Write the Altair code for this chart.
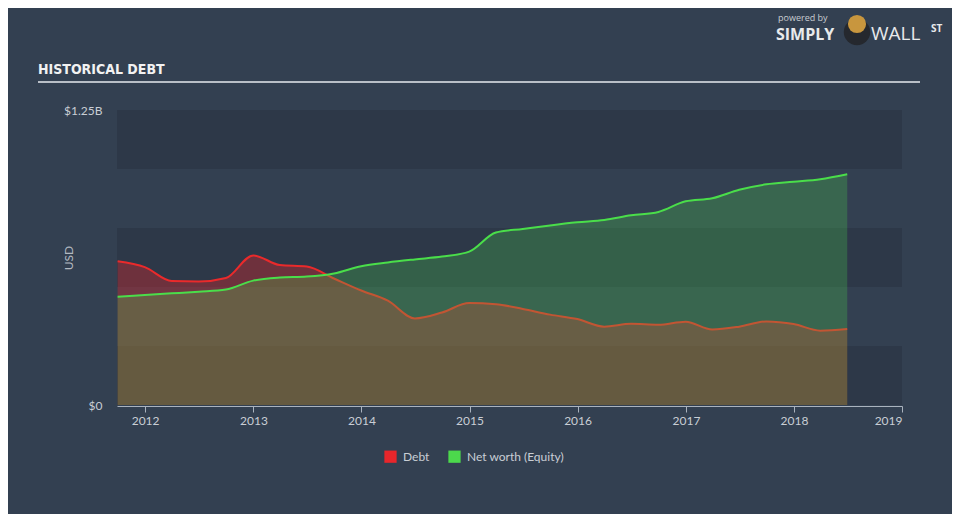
import altair as alt
import pandas as pd

# ---------------- data ----------------
dates = ["2011-09-30", "2011-12-31", "2012-03-31", "2012-06-30", "2012-09-30", "2012-12-31",
         "2013-03-31", "2013-06-30", "2013-09-30", "2013-12-31", "2014-03-31", "2014-06-30",
         "2014-09-30", "2014-12-31", "2015-03-31", "2015-06-30", "2015-09-30", "2015-12-31",
         "2016-03-31", "2016-06-30", "2016-09-30", "2016-12-31", "2017-03-31", "2017-06-30",
         "2017-09-30", "2017-12-31", "2018-03-31", "2018-06-30"]
debt_bn = [0.609, 0.584, 0.525, 0.523, 0.538, 0.634, 0.593, 0.587, 0.536, 0.485, 0.442, 0.367,
           0.392, 0.432, 0.427, 0.407, 0.383, 0.364, 0.332, 0.344, 0.340, 0.353, 0.320, 0.332,
           0.354, 0.343, 0.315, 0.322]
equity_bn = [0.459, 0.466, 0.473, 0.480, 0.489, 0.527, 0.540, 0.544, 0.557, 0.588, 0.604, 0.617,
             0.629, 0.650, 0.731, 0.746, 0.761, 0.774, 0.784, 0.804, 0.818, 0.863, 0.876, 0.912,
             0.935, 0.946, 0.957, 0.978]
series_names = ["Debt", "Net worth (Equity)"]
series_colors = ["#e8262b", "#4cd94c"]
year_ticks = [2012, 2013, 2014, 2015, 2016, 2017, 2018, 2019]
y_ticks = [0, 1.25e9]
band_lo = [0.0, 0.5e9, 1.0e9]
band_hi = [0.25e9, 0.75e9, 1.25e9]

rows = []
for d, v in zip(dates, debt_bn):
    rows.append({"date": d, "value": v * 1e9, "series": series_names[0]})
for d, v in zip(dates, equity_bn):
    rows.append({"date": d, "value": v * 1e9, "series": series_names[1]})
df = pd.DataFrame(rows)
bands = pd.DataFrame({"lo": band_lo, "hi": band_hi})

BG = "#334051"
BAND = "#2d3848"
TXT = "#c9ced5"
FONT = "Lato"

W, H = 785, 295

xscale = alt.Scale(type="utc",
                   domain=[alt.DateTime(year=2011, month=9, date=28, utc=True),
                           alt.DateTime(year=2019, month=1, date=1, utc=True)])
yscale = alt.Scale(domain=[0, 1.25e9], nice=False, zero=True)

xaxis = alt.Axis(values=[alt.DateTime(year=y, month=1, date=1, utc=True) for y in year_ticks],
                 format="%Y", title=None, grid=False, domainColor="#aab3be", tickColor="#aab3be",
                 tickSize=6, labelPadding=3, labelColor=TXT, labelFont=FONT, labelFontSize=12,
                 offset=1, labelFlush=True)
yaxis = alt.Axis(values=y_ticks,
                 labelExpr="datum.value == 0 ? '$0' : '$' + format(datum.value / 1e9, '.2f') + 'B'",
                 domain=False, ticks=False, grid=False, labelPadding=15, labelColor=TXT,
                 labelFont=FONT, labelFontSize=12, title="USD", titleColor="#b3b9c1",
                 titleFont=FONT, titleFontSize=12, titleFontWeight="normal", titleAngle=-90,
                 titleX=-49, titleY=H / 2, titleAlign="center", titleBaseline="middle")

band_layer = alt.Chart(bands).mark_rect(color=BAND).encode(
    x=alt.value(0), x2=alt.value("width"),
    y=alt.Y("lo:Q", scale=yscale, axis=yaxis), y2="hi:Q")

base = alt.Chart(df)
color_enc = alt.Color("series:N",
                      scale=alt.Scale(domain=series_names, range=series_colors),
                      legend=alt.Legend(title=None, orient="none", legendX=267, legendY=340,
                                        direction="horizontal", symbolType="square",
                                        symbolSize=150, symbolOpacity=1, symbolStrokeWidth=0,
                                        labelColor=TXT, labelFont=FONT, labelFontSize=12,
                                        labelOffset=6, columnPadding=18))

x_enc = alt.X("date:T", scale=xscale, axis=xaxis)
y_enc = alt.Y("value:Q", scale=yscale, axis=yaxis)

debt_area = base.mark_area(interpolate="monotone", opacity=0.35).encode(
    x=x_enc, y=y_enc, color=color_enc).transform_filter(alt.datum.series == series_names[0])
debt_line = base.mark_line(interpolate="monotone", color="#ea2a2b", strokeWidth=2).encode(
    x=x_enc, y=y_enc).transform_filter(alt.datum.series == series_names[0])
eq_area = base.mark_area(interpolate="monotone", opacity=0.25).encode(
    x=x_enc, y=y_enc, color=color_enc).transform_filter(alt.datum.series == series_names[1])
eq_line = base.mark_line(interpolate="monotone", color="#4ade4a", strokeWidth=2).encode(
    x=x_enc, y=y_enc).transform_filter(alt.datum.series == series_names[1])

# ---------------- decorations ----------------
title = alt.Chart(pd.DataFrame({"t": ["HISTORICAL DEBT"]})).mark_text(
    font="DejaVu Sans Condensed", fontWeight="bold", fontSize=14, color="#f2f2f2",
    align="left", baseline="alphabetic").encode(x=alt.value(-79), y=alt.value(-36), text="t:N")
title_rule = alt.Chart(pd.DataFrame({"a": [0]})).mark_rule(color="#b9bfc7", strokeWidth=2).encode(
    x=alt.value(-79), x2=alt.value(803), y=alt.value(-28))

powered = alt.Chart(pd.DataFrame({"t": ["powered by"]})).mark_text(
    font="Open Sans", fontSize=9, color="#c9cdd2", align="left", baseline="middle").encode(
    x=alt.value(661), y=alt.value(-92), text="t:N")
simply = alt.Chart(pd.DataFrame({"t": ["SIMPLY"]})).mark_text(
    font="Open Sans", fontWeight="bold", fontSize=16, color="#e8eaec", align="left",
    baseline="middle").encode(x=alt.value(659), y=alt.value(-75), text="t:N")
wall = alt.Chart(pd.DataFrame({"t": ["WALL"]})).mark_text(
    font="Open Sans", fontWeight="normal", fontSize=19, color="#e8eaec", align="left",
    baseline="middle").encode(x=alt.value(754), y=alt.value(-76), text="t:N")
st = alt.Chart(pd.DataFrame({"t": ["ST"]})).mark_text(
    font="Open Sans", fontWeight="bold", fontSize=10, color="#e8eaec", align="left",
    baseline="middle").encode(x=alt.value(814), y=alt.value(-81), text="t:N")
bull_body = alt.Chart(pd.DataFrame({"a": [0]})).mark_point(
    filled=True, shape="circle", color="#25282e", size=700, opacity=1).encode(
    x=alt.value(740), y=alt.value(-78))
bull_head = alt.Chart(pd.DataFrame({"a": [0]})).mark_point(
    filled=True, shape="circle", color="#c8963e", size=330, opacity=1).encode(
    x=alt.value(740), y=alt.value(-86))

chart = alt.layer(
    band_layer, debt_area, debt_line, eq_area, eq_line,
    title, title_rule, powered, simply, wall, st, bull_body, bull_head
).resolve_scale(color="shared").properties(
    width=W, height=H,
    autosize=alt.AutoSizeParams(type="none"),
    padding={"left": 109, "top": 102, "right": 50, "bottom": 109},
    background=BG
).configure_view(stroke=None)

chart.save("out.html", embed_options={"renderer": "svg", "actions": False})
